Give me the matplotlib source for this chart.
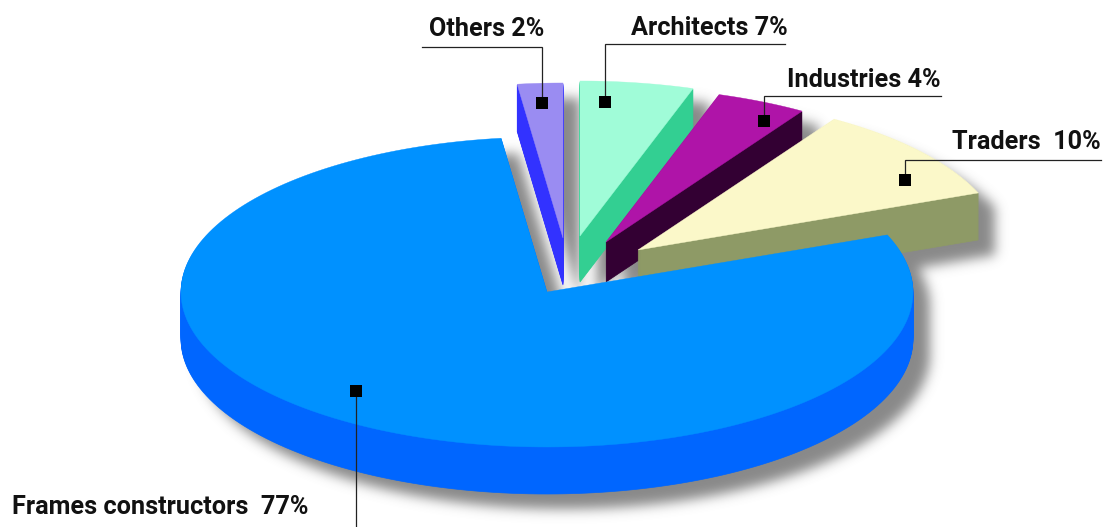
#!/usr/bin/env python3

# numpy
import numpy as np
# plotting
import matplotlib
matplotlib.use("Agg")
import matplotlib.pyplot as plt
from matplotlib.backends.backend_agg import FigureCanvasAgg
from matplotlib.figure import Figure
from matplotlib.patches import Polygon

# slice names, printed text and the share each slice is drawn with
slice_names = ["Others", "Architects", "Industries", "Traders", "Frames constructors"]
slice_shares = [2, 5, 4, 10, 79]
label_texts = ["Others 2%", "Architects 7%", "Industries 4%", "Traders  10%", "Frames constructors  77%"]

# look of the slices
top_colors = ["#9a8cf2", "#a0fcd8", "#af14a8", "#fbf8c9", "#0091ff"]
wall_colors = ["#3232ff", "#33cf92", "#330033", "#8e9a66", "#0066ff"]
centers = [(563, 238), (580, 236), (606, 242), (638, 250), (547, 292)]
depths = [47, 46, 40, 47, 47]
# the angles go clockwise from the left edge of the others slice
start_angle = 97.2
radius_x = 366
radius_y = 155

# label text position (right edge, baseline) and leader polyline
label_pos = [(544, 36), (788, 35), (941, 87), (1101, 149), (308, 514)]
leaders = [
    [(542, 103), (542, 47), (422, 47)],
    [(605, 102), (605, 44), (785, 44)],
    [(764, 121), (764, 96), (941, 96)],
    [(905, 180), (905, 160), (1101, 160)],
    [(356, 391), (356, 527)],
]

WIDTH, HEIGHT = 1107, 527


def wedge_outline(center, theta_1, theta_2):
    theta = np.radians(np.linspace(theta_1, theta_2, 200))
    x = center[0] + radius_x * np.cos(theta)
    y = center[1] - radius_y * np.sin(theta)
    return np.column_stack([np.r_[center[0], x], np.r_[center[1], y]])


def pixel_axes(fig):
    ax = fig.add_axes([0, 0, 1, 1])
    ax.set_xlim(0, WIDTH)
    ax.set_ylim(HEIGHT, 0)
    ax.axis("off")
    return ax


def blurred_shadow(outlines, sigma):
    # draw the silhouette on a hidden canvas, then blur it
    hidden = Figure(figsize=(WIDTH / 100, HEIGHT / 100), dpi=100)
    canvas = FigureCanvasAgg(hidden)
    hidden_ax = pixel_axes(hidden)
    for outline, depth in outlines:
        for step in range(0, depth + 1):
            hidden_ax.add_patch(Polygon(outline + [17, 15 + step], closed=True, color="black", lw=0))
    canvas.draw()
    mask = 1 - np.asarray(canvas.buffer_rgba())[:, :, 0] / 255
    kernel_x = np.arange(-int(3 * sigma), int(3 * sigma) + 1)
    kernel = np.exp(-kernel_x ** 2 / (2 * sigma ** 2))
    kernel = kernel / kernel.sum()
    mask = np.apply_along_axis(np.convolve, 0, mask, kernel, mode="same")
    mask = np.apply_along_axis(np.convolve, 1, mask, kernel, mode="same")
    return mask


def main():
    plt.rcParams["font.family"] = ["Roboto", "Liberation Sans", "DejaVu Sans"]
    fig = plt.figure(figsize=(WIDTH / 100, HEIGHT / 100), dpi=100, facecolor="white")
    ax = pixel_axes(fig)

    # outlines from the shares, clockwise; the big slice closes the circle
    outlines = []
    angle = start_angle
    for index, share in enumerate(slice_shares):
        sweep = share * 3.6
        outlines.append(wedge_outline(centers[index], angle, angle - sweep))
        angle -= sweep

    # soft shadow below everything
    mask = blurred_shadow(list(zip(outlines, depths)), 6.0)
    shadow = np.zeros((HEIGHT, WIDTH, 4))
    shadow[:, :, :3] = 0.42
    shadow[:, :, 3] = np.clip(mask * 0.8, 0, 1)
    ax.imshow(shadow, extent=(0, WIDTH, HEIGHT, 0), zorder=1, aspect="auto")
    ax.set_xlim(0, WIDTH)
    ax.set_ylim(HEIGHT, 0)

    # slices, from the back to the front, the big one last
    for index, outline in enumerate(outlines):
        zorder = 2 + index
        for step in range(depths[index], 0, -1):
            ax.add_patch(Polygon(outline + [0, step], closed=True, color=wall_colors[index], lw=0.5, zorder=zorder))
        ax.add_patch(Polygon(outline, closed=True, color=top_colors[index], lw=0.3, zorder=zorder))

    # labels and leaders
    for index, name in enumerate(slice_names):
        path = np.array(leaders[index])
        ax.plot(path[:, 0], path[:, 1], color="#222222", lw=0.9, zorder=10, solid_joinstyle="miter")
        ax.plot(path[0, 0], path[0, 1], marker="s", ms=8, color="black", mew=0, zorder=11)
        ax.text(label_pos[index][0], label_pos[index][1], label_texts[index], ha="right", va="baseline",
                fontsize=18.2, fontweight="bold", color="#111111", zorder=12)

    fig.savefig("out.png", dpi=100, facecolor="white")


if __name__ == "__main__":
    main()
